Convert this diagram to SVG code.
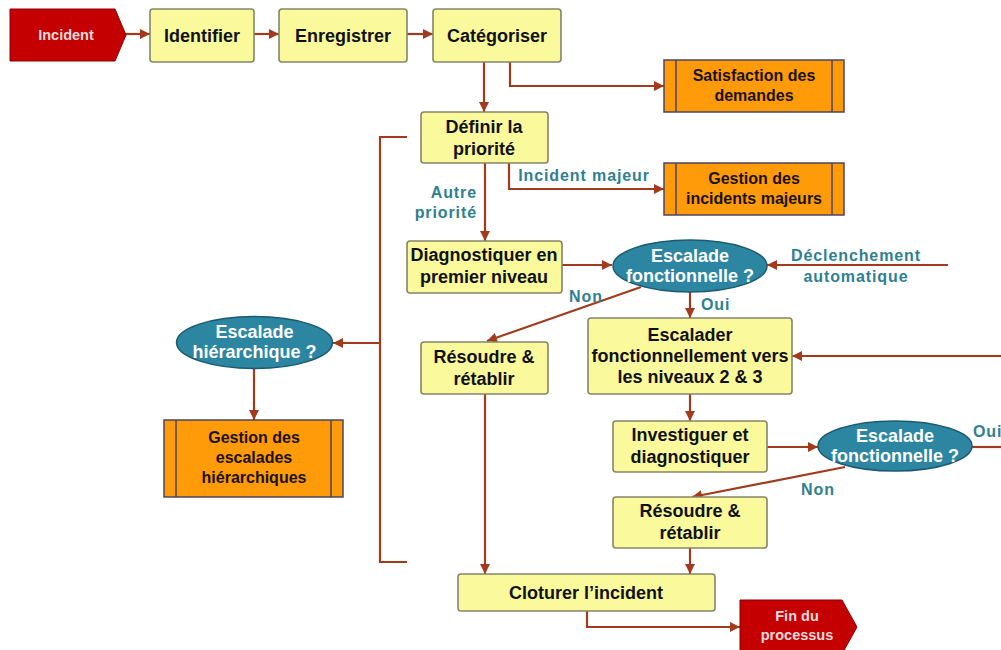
<svg xmlns="http://www.w3.org/2000/svg" width="1001" height="650" viewBox="0 0 1001 650">
<style>
text{font-family:"Liberation Sans",Arial,sans-serif;font-weight:bold;text-anchor:middle}
.box{fill:#FAFA9C;stroke:#85856a;stroke-width:1.6}
.org{fill:#FF9A08;stroke:#4d4560;stroke-width:1.5}
.ell{fill:#2C86A2;stroke:#1b5a70;stroke-width:1.5}
.red{fill:#C40000;stroke:#8a0000;stroke-width:1}
.t{font-size:18px;fill:#111}
.to{font-size:16px;fill:#1a1200}
.te{font-size:18px;fill:#fff}
.tr{font-size:14.5px;fill:#f7dcdc}
.lbl{font-size:16px;fill:#2E7F92;letter-spacing:0.9px}
.c{fill:none;stroke:#A23A1C;stroke-width:2.2}
</style>
<defs>
<marker id="ah" viewBox="0 0 10 10" refX="10" refY="5" markerWidth="11" markerHeight="10" markerUnits="userSpaceOnUse" orient="auto">
<path d="M0,0 L10,5 L0,10 z" fill="#A23A1C"/>
</marker>
</defs>

<g id="connectors">
<path class="c" d="M126,34 H150" marker-end="url(#ah)"/>
<path class="c" d="M254,34 H279" marker-end="url(#ah)"/>
<path class="c" d="M407,34 H433" marker-end="url(#ah)"/>
<path class="c" d="M484,62 V112" marker-end="url(#ah)"/>
<path class="c" d="M510,62 V86 H664" marker-end="url(#ah)"/>
<path class="c" d="M509,163 V189 H664" marker-end="url(#ah)"/>
<path class="c" d="M485,163 V241" marker-end="url(#ah)"/>
<path class="c" d="M562,265 H612" marker-end="url(#ah)"/>
<path class="c" d="M948,265 H767" marker-end="url(#ah)"/>
<path class="c" d="M690,292 V318" marker-end="url(#ah)"/>
<path class="c" d="M641,287 L487,341" marker-end="url(#ah)"/>
<path class="c" d="M1001,356 H792" marker-end="url(#ah)"/>
<path class="c" d="M407,137 H380 V562 H407"/>
<path class="c" d="M380,343 H333" marker-end="url(#ah)"/>
<path class="c" d="M254,368 V420" marker-end="url(#ah)"/>
<path class="c" d="M690,394 V421" marker-end="url(#ah)"/>
<path class="c" d="M767,447 H818" marker-end="url(#ah)"/>
<path class="c" d="M972,447 H1001"/>
<path class="c" d="M845,467 L692,497" marker-end="url(#ah)"/>
<path class="c" d="M485,394 V574" marker-end="url(#ah)"/>
<path class="c" d="M690,548 V574" marker-end="url(#ah)"/>
<path class="c" d="M587,611 V627 H740" marker-end="url(#ah)"/>
<text class="lbl" x="477" y="198" style="text-anchor:end">Autre</text>
<text class="lbl" x="477" y="218" style="text-anchor:end">priorité</text>
<text class="lbl" x="584" y="181">Incident majeur</text>
<text class="lbl" x="856" y="261">Déclenchement</text>
<text class="lbl" x="856" y="282">automatique</text>
<text class="lbl" x="701" y="310" style="text-anchor:start">Oui</text>
<text class="lbl" x="586" y="302">Non</text>
<text class="lbl" x="973" y="437" style="text-anchor:start">Oui</text>
<text class="lbl" x="818" y="495">Non</text>
</g>

<g id="incident">
<polygon class="red" points="10,9 115,9 126,35 115,61 10,61"/>
<text class="tr" x="66" y="40">Incident</text>
</g>
<g id="identifier">
<rect class="box" x="150" y="9" width="104" height="53" rx="3"/>
<text class="t" x="202" y="42">Identifier</text>
</g>
<g id="enregistrer">
<rect class="box" x="279" y="9" width="128" height="53" rx="3"/>
<text class="t" x="343" y="42">Enregistrer</text>
</g>
<g id="categoriser">
<rect class="box" x="433" y="9" width="128" height="53" rx="3"/>
<text class="t" x="497" y="42">Catégoriser</text>
</g>
<g id="satisfaction">
<rect class="org" x="664" y="60" width="180" height="52"/>
<path class="org" d="M676,60 V112 M832,60 V112"/>
<text class="to" x="754" y="81">Satisfaction des</text>
<text class="to" x="754" y="101">demandes</text>
</g>
<g id="definir">
<rect class="box" x="421" y="112" width="127" height="51" rx="3"/>
<text class="t" x="484" y="133">Définir la</text>
<text class="t" x="484" y="155">priorité</text>
</g>
<g id="gestion-majeurs">
<rect class="org" x="664" y="163" width="180" height="52"/>
<path class="org" d="M676,163 V215 M832,163 V215"/>
<text class="to" x="754" y="184">Gestion des</text>
<text class="to" x="754" y="204">incidents majeurs</text>
</g>
<g id="diagnostiquer">
<rect class="box" x="407" y="241" width="155" height="52" rx="3"/>
<text class="t" x="484" y="261">Diagnostiquer en</text>
<text class="t" x="484" y="283">premier niveau</text>
</g>
<g id="escalade-fonct-1">
<ellipse class="ell" cx="690" cy="266" rx="77" ry="26"/>
<text class="te" x="690" y="262">Escalade</text>
<text class="te" x="690" y="282">fonctionnelle ?</text>
</g>
<g id="escalade-hier">
<ellipse class="ell" cx="254.5" cy="342.5" rx="78" ry="26"/>
<text class="te" x="254.5" y="338">Escalade</text>
<text class="te" x="254.5" y="358">hiérarchique ?</text>
</g>
<g id="resoudre-1">
<rect class="box" x="421" y="342" width="127" height="52" rx="3"/>
<text class="t" x="484" y="363">Résoudre &amp;</text>
<text class="t" x="484" y="385">rétablir</text>
</g>
<g id="escalader">
<rect class="box" x="588" y="318" width="204" height="76" rx="3"/>
<text class="t" x="690" y="341">Escalader</text>
<text class="t" x="690" y="362">fonctionnellement vers</text>
<text class="t" x="690" y="383">les niveaux 2 &amp; 3</text>
</g>
<g id="gestion-escalades">
<rect class="org" x="164" y="420" width="179" height="77"/>
<path class="org" d="M176,420 V497 M331,420 V497"/>
<text class="to" x="254" y="443">Gestion des</text>
<text class="to" x="254" y="463">escalades</text>
<text class="to" x="254" y="483">hiérarchiques</text>
</g>
<g id="investiguer">
<rect class="box" x="613" y="421" width="154" height="51" rx="3"/>
<text class="t" x="690" y="441">Investiguer et</text>
<text class="t" x="690" y="463">diagnostiquer</text>
</g>
<g id="escalade-fonct-2">
<ellipse class="ell" cx="895" cy="446" rx="77" ry="25"/>
<text class="te" x="895" y="442">Escalade</text>
<text class="te" x="895" y="462">fonctionnelle ?</text>
</g>
<g id="resoudre-2">
<rect class="box" x="613" y="497" width="154" height="51" rx="3"/>
<text class="t" x="690" y="517">Résoudre &amp;</text>
<text class="t" x="690" y="539">rétablir</text>
</g>
<g id="cloturer">
<rect class="box" x="458" y="574" width="257" height="37" rx="3"/>
<text class="t" x="586" y="599">Cloturer l’incident</text>
</g>
<g id="fin">
<polygon class="red" points="740,600 842,600 857,627 842,654 740,654"/>
<text class="tr" x="797" y="621">Fin du</text>
<text class="tr" x="797" y="640">processus</text>
</g>
</svg>
